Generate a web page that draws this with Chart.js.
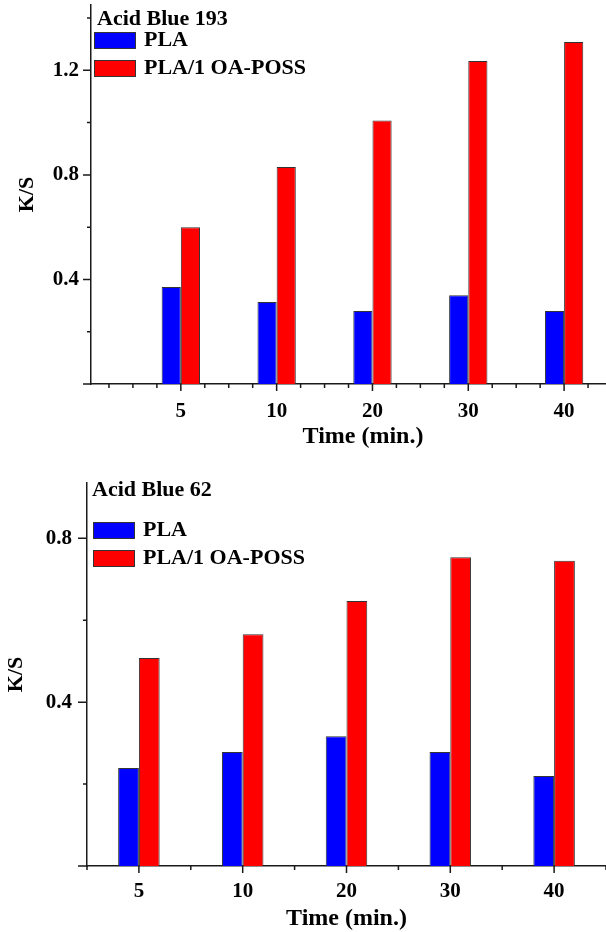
<!DOCTYPE html>
<html>
<head>
<meta charset="utf-8">
<script src="https://cdn.jsdelivr.net/npm/chart.js@4.4.0/dist/chart.umd.min.js"></script>
<style>
  html, body { margin: 0; padding: 0; background: #fff; overflow: hidden; }
  #page { position: relative; width: 606px; height: 932px; overflow: hidden; }
  canvas { position: absolute; left: 0; }
</style>
</head>
<body>
<div id="page">
  <canvas id="chartTop" width="635" height="470" style="top:0"></canvas>
  <canvas id="chartBottom" width="606" height="480" style="top:470px"></canvas>
</div>
<script>
// data
const timeLabels = ["5", "10", "20", "30", "40"];
const seriesNames = ["PLA", "PLA/1 OA-POSS"];
const pla193 = [0.371, 0.314, 0.279, 0.34, 0.279];
const poss193 = [0.6, 0.83, 1.008, 1.236, 1.308];
const pla62 = [0.239, 0.278, 0.317, 0.278, 0.22];
const poss62 = [0.508, 0.566, 0.647, 0.754, 0.745];

const BLUE = "#0000ff";
const RED = "#ff0000";
const INK = "#1a1a1a";
const SERIF = "'Liberation Serif', 'Times New Roman', serif";

Chart.defaults.font.family = SERIF;
Chart.defaults.font.weight = "bold";
Chart.defaults.color = "#000";

// tick marks (outside the axes) + the in-plot caption/legend
const frameMarks = {
  id: "frameMarks",
  afterDraw(chart, args, o) {
    const { ctx, chartArea: a } = chart;
    const xs = chart.scales.x, ys = chart.scales.y;
    ctx.save();
    ctx.strokeStyle = INK;
    ctx.lineWidth = 1.5;
    ctx.beginPath();
    ys.ticks.forEach((t) => {
      const y = ys.getPixelForValue(t.value);
      ctx.moveTo(a.left - o.yMajor, y);
      ctx.lineTo(a.left, y);
    });
    o.yMinorAt.forEach((v) => {
      const y = ys.getPixelForValue(v);
      ctx.moveTo(a.left - 4, y);
      ctx.lineTo(a.left, y);
    });
    xs.ticks.forEach((t) => {
      const x = xs.getPixelForValue(t.value);
      ctx.moveTo(x, a.bottom);
      ctx.lineTo(x, a.bottom + 7);
    });
    o.xMinorAt.forEach((v) => {
      const x = xs.getPixelForValue(v);
      ctx.moveTo(x, a.bottom);
      ctx.lineTo(x, a.bottom + 4);
    });
    ctx.stroke();

    ctx.font = "bold 22px " + SERIF;
    ctx.textBaseline = "middle";
    ctx.fillStyle = "#000";
    ctx.fillText(o.heading, o.headX, o.headY);
    ctx.lineWidth = 1;
    ctx.strokeStyle = "#333";
    chart.data.datasets.forEach((ds, i) => {
      const y = o.rowY[i];
      ctx.fillStyle = ds.backgroundColor;
      ctx.fillRect(o.boxX, y - 8.5, 42, 17);
      ctx.strokeRect(o.boxX + 0.5, y - 8, 41, 16);
      ctx.fillStyle = "#000";
      ctx.fillText(ds.label, o.boxX + 50, y);
    });
    ctx.restore();
  }
};

function makePanel(id, plaVals, possVals, o) {
  const bars = (vals) => vals.map((v, i) => ({ x: i + 1, y: v }));
  return new Chart(document.getElementById(id), {
    type: "bar",
    data: {
      datasets: [
        { label: seriesNames[0], data: bars(plaVals), backgroundColor: BLUE, borderColor: "#333", borderWidth: 1 },
        { label: seriesNames[1], data: bars(possVals), backgroundColor: RED, borderColor: "#333", borderWidth: 1 }
      ]
    },
    options: {
      responsive: false,
      animation: false,
      events: [],
      categoryPercentage: 0.4,
      barPercentage: 1,
      layout: { autoPadding: false, padding: { top: o.padTop, left: 0, right: 0, bottom: 0 } },
      plugins: {
        legend: { display: false },
        tooltip: { enabled: false },
        frameMarks: o.marks
      },
      scales: {
        x: {
          type: "linear",
          offset: false,
          min: o.xMin,
          max: o.xMax,
          grid: { display: false, drawTicks: false },
          border: { display: true, color: INK, width: 1.5 },
          afterBuildTicks: (s) => { s.ticks = timeLabels.map((_, i) => ({ value: i + 1 })); },
          ticks: {
            padding: o.xPad,
            maxRotation: 0,
            autoSkip: false,
            font: { size: 21, weight: "bold" },
            callback: (v) => timeLabels[Math.round(v) - 1] || ""
          },
          title: { display: true, text: "Time (min.)", font: { size: 24, weight: "bold" }, padding: { top: 0, bottom: o.xTitlePad } },
          afterFit: (s) => { s.height = o.xHeight; s.paddingLeft = 0; s.paddingRight = 0; }
        },
        y: {
          min: 0,
          max: o.yMax,
          grid: { display: false, drawTicks: false },
          border: { display: true, color: INK, width: 1.5 },
          ticks: {
            stepSize: 0.4,
            includeBounds: false,
            padding: o.yPad,
            font: { size: 21, weight: "bold" },
            callback: (v) => (v === 0 ? "" : v.toFixed(1))
          },
          title: { display: true, text: "K/S", font: { size: 22, weight: "bold" }, padding: { top: o.yTitlePad, bottom: 0 } },
          afterFit: (s) => { s.width = o.yWidth; s.paddingTop = 0; s.paddingBottom = 0; }
        }
      }
    },
    plugins: [frameMarks]
  });
}

makePanel("chartTop", pla193, poss193, {
  padTop: 5, xMin: 0.0625, xMax: 5.74, yMax: 1.45,
  xHeight: 86, yWidth: 91, xPad: 15, yPad: 12, xTitlePad: 19, yTitlePad: 14,
  marks: {
    yMajor: 8,
    yMinorAt: [0.2, 0.6, 1.0, 1.4],
    xMinorAt: [0.25, 0.5, 0.75, 1.25, 1.5, 1.75, 2.25, 2.5, 2.75, 3.25, 3.5, 3.75, 4.25, 4.5, 4.75, 5.25, 5.5],
    heading: "Acid Blue 193", headX: 97, headY: 19.5,
    boxX: 94, rowY: [40.5, 68.5]
  }
});

makePanel("chartBottom", pla62, poss62, {
  padTop: 13, xMin: 0.5, xMax: 5.5, yMax: 0.935,
  xHeight: 84, yWidth: 87, xPad: 13, yPad: 15, xTitlePad: 17, yTitlePad: 3,
  marks: {
    yMajor: 9,
    yMinorAt: [0.2, 0.6],
    xMinorAt: [0.5, 1.5, 2.5, 3.5, 4.5, 5.5],
    heading: "Acid Blue 62", headX: 92, headY: 20,
    boxX: 93, rowY: [60.5, 88.5]
  }
});
</script>
</body>
</html>
